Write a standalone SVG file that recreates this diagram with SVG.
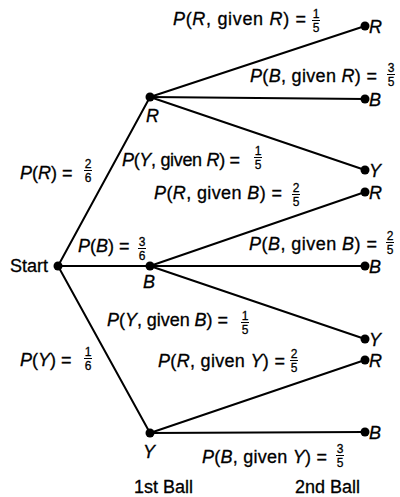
<svg xmlns="http://www.w3.org/2000/svg" width="400" height="497" viewBox="0 0 400 497">
  <style>
    .edge { stroke: #000; stroke-width: 2; fill: none; stroke-linecap: round; }
    .dot { fill: #000; }
    text { font-family: "Liberation Sans", Arial, sans-serif; fill: #000; stroke: #000; stroke-width: 0.3; }
    .lbl { font-size: 18px; }
    .v { font-style: italic; }
    .frac { font-size: 12px; text-anchor: middle; }
    .bar { stroke: #000; stroke-width: 1; }
  </style>

  <!-- branches -->
  <g id="connectors">
    <line class="edge" x1="58" y1="266" x2="150" y2="97"/>
    <line class="edge" x1="58" y1="266" x2="150" y2="266"/>
    <line class="edge" x1="58" y1="266" x2="150" y2="433"/>
    <line class="edge" x1="150" y1="97" x2="365" y2="26"/>
    <line class="edge" x1="150" y1="97" x2="365" y2="99"/>
    <line class="edge" x1="150" y1="97" x2="365" y2="170"/>
    <line class="edge" x1="150" y1="266" x2="365" y2="192"/>
    <line class="edge" x1="150" y1="266" x2="365" y2="266"/>
    <line class="edge" x1="150" y1="266" x2="365" y2="339"/>
    <line class="edge" x1="150" y1="433" x2="365" y2="360"/>
    <line class="edge" x1="150" y1="433" x2="365" y2="432"/>
  </g>

  <!-- root and first draw -->
  <g id="start"><circle class="dot" cx="58" cy="266" r="4.5"/><text class="lbl" x="10" y="272">Start</text></g>
  <g id="r1"><circle class="dot" cx="150" cy="97" r="4.5"/><text class="lbl v" x="146" y="122">R</text></g>
  <g id="b1"><circle class="dot" cx="150" cy="266" r="4.5"/><text class="lbl v" x="143" y="288">B</text></g>
  <g id="y1"><circle class="dot" cx="150" cy="433" r="4.5"/><text class="lbl v" x="143" y="458">Y</text></g>

  <!-- second draw -->
  <g id="rr"><circle class="dot" cx="365" cy="26" r="4.5"/><text class="lbl v" x="369" y="33">R</text></g>
  <g id="rb"><circle class="dot" cx="365" cy="99" r="4.5"/><text class="lbl v" x="369" y="106">B</text></g>
  <g id="ry"><circle class="dot" cx="365" cy="170" r="4.5"/><text class="lbl v" x="369" y="177">Y</text></g>
  <g id="br"><circle class="dot" cx="365" cy="192" r="4.5"/><text class="lbl v" x="369" y="199">R</text></g>
  <g id="bb"><circle class="dot" cx="365" cy="266" r="4.5"/><text class="lbl v" x="369" y="273">B</text></g>
  <g id="by"><circle class="dot" cx="365" cy="339" r="4.5"/><text class="lbl v" x="369" y="346">Y</text></g>
  <g id="yr"><circle class="dot" cx="365" cy="360" r="4.5"/><text class="lbl v" x="369" y="367">R</text></g>
  <g id="yb"><circle class="dot" cx="365" cy="432" r="4.5"/><text class="lbl v" x="369" y="439">B</text></g>

  <!-- probabilities, first draw -->
  <g id="p-r">
    <text class="lbl" x="20" y="179"><tspan class="v">P</tspan>(<tspan class="v">R</tspan>) =</text>
    <text class="frac" x="88" y="168">2</text>
    <line class="bar" x1="84" y1="170.5" x2="92" y2="170.5"/>
    <text class="frac" x="88" y="182">6</text>
  </g>
  <g id="p-b">
    <text class="lbl" x="78" y="252"><tspan class="v">P</tspan>(<tspan class="v">B</tspan>) =</text>
    <text class="frac" x="142" y="246">3</text>
    <line class="bar" x1="138" y1="248.5" x2="146" y2="248.5"/>
    <text class="frac" x="142" y="260">6</text>
  </g>
  <g id="p-y">
    <text class="lbl" x="20" y="366"><tspan class="v">P</tspan>(<tspan class="v">Y</tspan>) =</text>
    <text class="frac" x="88" y="356">1</text>
    <line class="bar" x1="84" y1="358.5" x2="92" y2="358.5"/>
    <text class="frac" x="88" y="370">6</text>
  </g>

  <!-- probabilities, second draw -->
  <g id="p-rr">
    <text class="lbl" x="173" y="25" textLength="133"><tspan class="v">P</tspan>(<tspan class="v">R</tspan>, given <tspan class="v">R</tspan>) =</text>
    <text class="frac" x="316" y="18">1</text>
    <line class="bar" x1="312" y1="20.5" x2="320" y2="20.5"/>
    <text class="frac" x="316" y="32">5</text>
  </g>
  <g id="p-rb">
    <text class="lbl" x="250" y="82" textLength="127"><tspan class="v">P</tspan>(<tspan class="v">B</tspan>, given <tspan class="v">R</tspan>) =</text>
    <text class="frac" x="391" y="72">3</text>
    <line class="bar" x1="387" y1="74.5" x2="395" y2="74.5"/>
    <text class="frac" x="391" y="86">5</text>
  </g>
  <g id="p-ry">
    <text class="lbl" x="122" y="166" textLength="118"><tspan class="v">P</tspan>(<tspan class="v">Y</tspan>, given <tspan class="v">R</tspan>) =</text>
    <text class="frac" x="258" y="155">1</text>
    <line class="bar" x1="254" y1="157.5" x2="262" y2="157.5"/>
    <text class="frac" x="258" y="169">5</text>
  </g>
  <g id="p-br">
    <text class="lbl" x="154" y="199" textLength="128"><tspan class="v">P</tspan>(<tspan class="v">R</tspan>, given <tspan class="v">B</tspan>) =</text>
    <text class="frac" x="296" y="192">2</text>
    <line class="bar" x1="292" y1="194.5" x2="300" y2="194.5"/>
    <text class="frac" x="296" y="206">5</text>
  </g>
  <g id="p-bb">
    <text class="lbl" x="249" y="250" textLength="128"><tspan class="v">P</tspan>(<tspan class="v">B</tspan>, given <tspan class="v">B</tspan>) =</text>
    <text class="frac" x="390" y="240">2</text>
    <line class="bar" x1="386" y1="242.5" x2="394" y2="242.5"/>
    <text class="frac" x="390" y="254">5</text>
  </g>
  <g id="p-by">
    <text class="lbl" x="107" y="326" textLength="121"><tspan class="v">P</tspan>(<tspan class="v">Y</tspan>, given <tspan class="v">B</tspan>) =</text>
    <text class="frac" x="245" y="320">1</text>
    <line class="bar" x1="241" y1="322.5" x2="249" y2="322.5"/>
    <text class="frac" x="245" y="334">5</text>
  </g>
  <g id="p-yr">
    <text class="lbl" x="158" y="367" textLength="127"><tspan class="v">P</tspan>(<tspan class="v">R</tspan>, given <tspan class="v">Y</tspan>) =</text>
    <text class="frac" x="294" y="358">2</text>
    <line class="bar" x1="290" y1="360.5" x2="298" y2="360.5"/>
    <text class="frac" x="294" y="372">5</text>
  </g>
  <g id="p-yb">
    <text class="lbl" x="202" y="463" textLength="125"><tspan class="v">P</tspan>(<tspan class="v">B</tspan>, given <tspan class="v">Y</tspan>) =</text>
    <text class="frac" x="340" y="453">3</text>
    <line class="bar" x1="336" y1="455.5" x2="344" y2="455.5"/>
    <text class="frac" x="340" y="467">5</text>
  </g>

  <!-- column captions -->
  <text class="lbl" x="134" y="493">1st Ball</text>
  <text class="lbl" x="295" y="493">2nd Ball</text>
</svg>
